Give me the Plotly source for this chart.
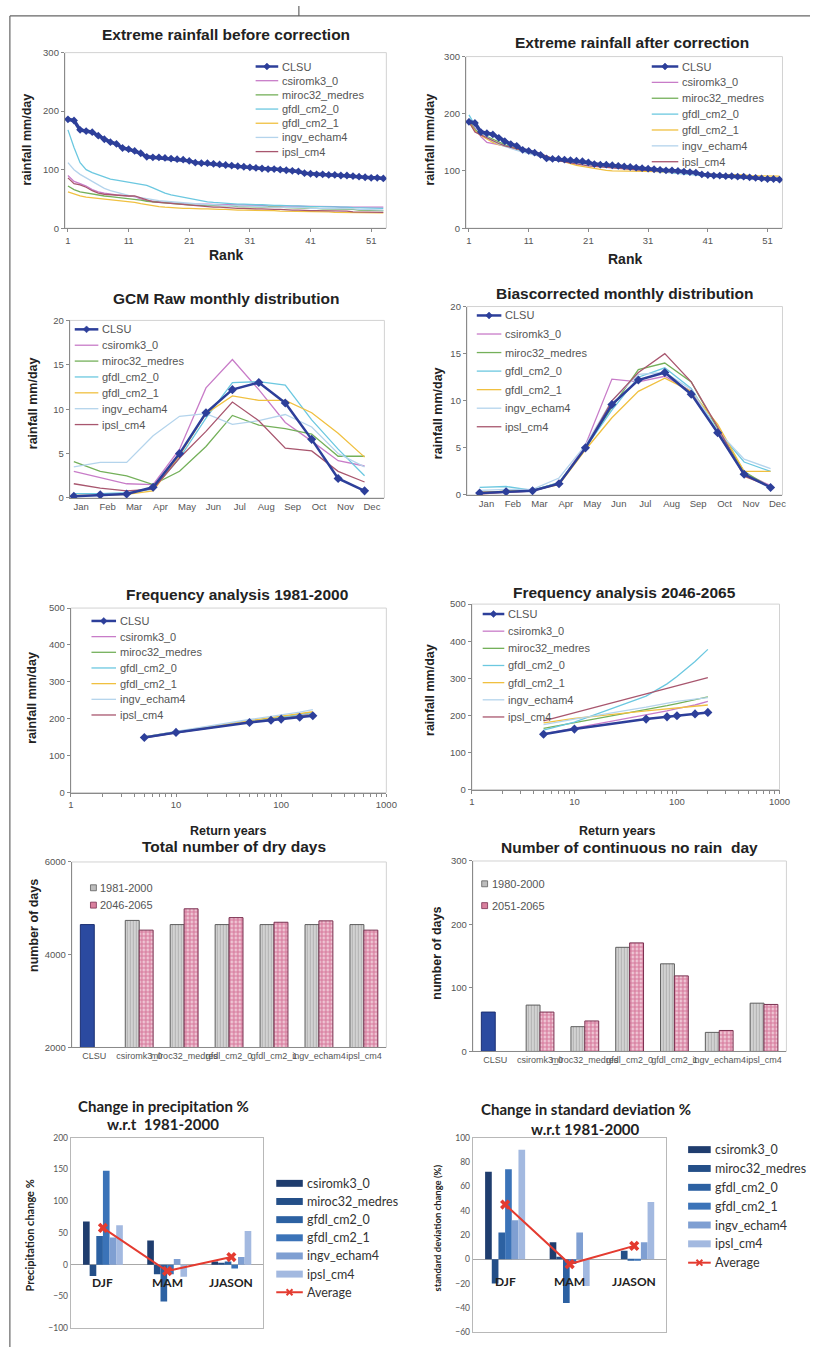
import plotly.graph_objects as go

W, H = 821, 1352
FONT = "Liberation Sans"
FONT2 = "Lato"

# ---------------- data ----------------
models = ["csiromk3_0", "miroc32_medres", "gfdl_cm2_0", "gfdl_cm2_1", "ingv_echam4", "ipsl_cm4"]
model_colors = ["#c87cc8", "#74b05a", "#6cc8e0", "#f0c040", "#b4d4ec", "#a8566e"]
clsu_color = "#2d3f9a"

rank = list(range(1, 54))
rank_ticks = [1, 11, 21, 31, 41, 51]

clsu_rank = [186, 184, 168, 166, 164, 158, 152, 147, 144, 137, 135, 132, 128, 122, 121, 121, 120, 119, 118, 117,
             115, 112, 111, 111, 110, 109, 108, 107, 106, 105, 104, 103, 102, 101, 101, 100, 99, 98, 97, 94,
             93, 92, 92, 91, 91, 90, 90, 89, 88, 87, 86, 86, 85]

# before correction
raw_csiro = [90, 80, 76, 72, 66, 62, 60, 58, 57, 56, 55, 54, 50, 47, 46, 45, 44, 43, 43, 42, 42, 41, 41, 41, 40, 40,
             40, 40, 39, 39, 39, 39, 39, 38, 38, 38, 38, 38, 38, 37, 37, 37, 37, 37, 37, 36, 36, 36, 36, 36, 36, 36, 36]
raw_miroc = [72, 66, 62, 60, 58, 56, 55, 54, 53, 52, 51, 50, 48, 46, 45, 44, 43, 42, 41, 40, 40, 39, 39, 39, 38, 38,
             38, 38, 37, 37, 37, 37, 36, 36, 36, 36, 35, 35, 35, 34, 34, 34, 33, 33, 33, 32, 32, 32, 31, 31, 31, 30, 30]
raw_gfdl0 = [168, 138, 112, 100, 95, 91, 88, 84, 82, 80, 78, 76, 75, 73, 69, 64, 60, 57, 55, 52, 50, 48, 46, 45, 44,
             43, 42, 42, 41, 41, 40, 40, 40, 39, 39, 39, 38, 38, 38, 37, 37, 37, 37, 36, 36, 36, 36, 35, 35, 35, 35, 34, 34]
raw_gfdl1 = [62, 58, 55, 53, 52, 50, 49, 48, 47, 46, 45, 44, 42, 40, 38, 37, 36, 35, 35, 34, 34, 33, 33, 33, 32, 32,
             32, 31, 31, 31, 31, 30, 30, 30, 30, 29, 29, 29, 29, 28, 28, 28, 28, 28, 27, 27, 27, 27, 27, 26, 26, 26, 26]
raw_ingv = [112, 100, 92, 86, 80, 74, 68, 64, 61, 58, 56, 54, 52, 50, 48, 47, 46, 45, 44, 43, 42, 41, 41, 40, 40, 39,
            39, 38, 38, 38, 37, 37, 37, 36, 36, 36, 35, 35, 35, 35, 34, 34, 34, 34, 33, 33, 33, 33, 32, 32, 32, 32, 31]
raw_ipsl = [86, 76, 74, 70, 64, 60, 58, 57, 56, 56, 55, 55, 52, 48, 45, 44, 43, 42, 41, 40, 39, 38, 38, 37, 36, 36,
            35, 35, 34, 34, 33, 33, 33, 32, 32, 32, 31, 31, 31, 30, 30, 30, 30, 29, 29, 29, 29, 28, 28, 28, 28, 28, 27]

# after correction
cor_csiro = [190, 175, 160, 150, 148, 147, 145, 143, 140, 136, 132, 128, 124, 121, 120, 119, 118, 117, 116, 115, 113,
             111, 110, 109, 108, 107, 106, 105, 104, 103, 102, 101, 100, 99, 99, 98, 97, 96, 95, 93, 92, 91, 90, 89,
             89, 88, 88, 87, 87, 86, 86, 85, 85]
cor_miroc = [188, 172, 165, 160, 155, 150, 146, 142, 139, 136, 134, 131, 127, 124, 122, 120, 118, 116, 114, 112, 111,
             110, 109, 108, 107, 106, 105, 104, 103, 102, 101, 100, 99, 98, 97, 96, 95, 94, 93, 92, 91, 91, 90, 90,
             89, 89, 88, 88, 87, 87, 86, 86, 86]
cor_gfdl0 = [198, 180, 168, 160, 152, 148, 144, 140, 137, 135, 133, 130, 126, 123, 121, 119, 117, 115, 114, 113, 112,
             110, 108, 107, 106, 105, 104, 103, 102, 101, 100, 99, 98, 97, 97, 96, 95, 94, 93, 92, 91, 90, 90, 89,
             89, 88, 88, 87, 87, 87, 86, 86, 85]
cor_gfdl1 = [185, 170, 162, 156, 150, 146, 143, 140, 137, 135, 133, 131, 128, 125, 122, 118, 115, 112, 110, 108, 106,
             104, 102, 101, 100, 100, 100, 100, 100, 100, 100, 99, 99, 98, 98, 97, 97, 96, 96, 95, 95, 94, 94, 94,
             93, 93, 93, 92, 92, 92, 91, 91, 91]
cor_ingv = [192, 178, 166, 158, 152, 147, 143, 139, 136, 133, 130, 128, 125, 123, 121, 119, 117, 115, 113, 112, 111,
            110, 109, 108, 107, 106, 105, 104, 103, 102, 101, 100, 100, 99, 98, 97, 96, 95, 94, 93, 92, 91, 90, 89,
            88, 88, 87, 87, 86, 86, 85, 85, 84]
cor_ipsl = [186, 168, 163, 158, 152, 148, 144, 141, 138, 136, 135, 134, 130, 126, 122, 118, 116, 114, 112, 110, 109,
            108, 107, 106, 105, 104, 103, 103, 102, 101, 101, 100, 100, 99, 99, 98, 97, 96, 95, 94, 93, 92, 92, 91,
            91, 90, 90, 89, 89, 88, 88, 87, 87]

months = ["Jan", "Feb", "Mar", "Apr", "May", "Jun", "Jul", "Aug", "Sep", "Oct", "Nov", "Dec"]
clsu_month = [0.2, 0.35, 0.45, 1.2, 5.0, 9.6, 12.2, 13.0, 10.7, 6.6, 2.2, 0.8]
mraw_csiro = [3.0, 2.3, 1.6, 1.5, 5.5, 12.4, 15.6, 12.2, 8.5, 6.4, 4.2, 3.6]
mraw_miroc = [4.1, 3.0, 2.5, 1.5, 3.0, 5.8, 9.3, 8.2, 7.8, 7.2, 4.7, 4.7]
mraw_gfdl0 = [0.5, 0.5, 0.6, 1.0, 4.5, 9.0, 13.0, 13.1, 12.7, 8.8, 5.5, 2.5]
mraw_gfdl1 = [0.3, 0.3, 0.4, 0.8, 4.8, 9.5, 11.5, 11.0, 11.0, 9.6, 7.3, 4.6]
mraw_ingv = [3.5, 4.0, 4.0, 7.0, 9.2, 9.5, 8.3, 8.7, 9.4, 8.0, 5.0, 3.5]
mraw_ipsl = [1.6, 1.1, 0.8, 1.0, 4.5, 7.5, 10.8, 8.7, 5.6, 5.3, 3.0, 1.8]

mcor_csiro = [0.2, 0.3, 0.4, 1.2, 5.3, 12.3, 12.0, 12.6, 11.0, 6.5, 2.3, 1.0]
mcor_miroc = [0.2, 0.4, 0.5, 1.3, 5.0, 9.3, 13.3, 14.0, 12.0, 7.0, 2.5, 0.8]
mcor_gfdl0 = [0.8, 0.9, 0.5, 1.3, 5.0, 9.0, 12.5, 13.5, 11.3, 6.8, 3.5, 2.5]
mcor_gfdl1 = [0.3, 0.4, 0.5, 1.1, 4.8, 8.2, 11.0, 12.4, 11.0, 7.5, 2.5, 2.5]
mcor_ingv = [0.5, 0.6, 0.6, 1.8, 5.3, 10.0, 12.8, 13.0, 11.2, 6.8, 3.8, 2.8]
mcor_ipsl = [0.1, 0.3, 0.4, 1.2, 5.0, 10.0, 13.0, 15.0, 12.0, 7.2, 2.0, 0.9]

return_years = [5, 10, 50, 80, 100, 150, 200]
return_ticks = [1, 10, 100, 1000]
clsu_freq = [149, 163, 190, 196, 199, 204, 208]
f81_csiro = [150, 164, 193, 199, 203, 209, 214]
f81_miroc = [151, 165, 192, 198, 201, 207, 211]
f81_gfdl0 = [149, 163, 194, 201, 205, 212, 217]
f81_gfdl1 = [150, 164, 195, 203, 207, 214, 219]
f81_ingv = [150, 166, 198, 206, 210, 218, 225]
f81_ipsl = [148, 162, 191, 197, 200, 206, 210]

f46_csiro = [150, 165, 200, 212, 218, 228, 238]
f46_miroc = [165, 180, 215, 226, 232, 242, 250]
f46_gfdl0 = [160, 182, 252, 285, 305, 345, 378]
f46_gfdl1 = [180, 192, 212, 218, 221, 225, 228]
f46_ingv = [175, 190, 222, 233, 238, 244, 248]
f46_ipsl = [185, 207, 257, 272, 280, 292, 302]

bar_cats = ["CLSU"] + models
dry_clsu = [4650]
dry_1981 = [4740, 4650, 4650, 4650, 4650, 4650]
dry_2046 = [4530, 4990, 4800, 4700, 4730, 4530]

norain_clsu = [62]
norain_1980 = [73, 39, 164, 138, 30, 76]
norain_2051 = [62, 48, 171, 119, 33, 74]

seasons = ["DJF", "MAM", "JJASON"]
pc_csiro = [68, 38, 5]
pc_miroc = [-18, -15, 3]
pc_gfdl0 = [45, -58, 5]
pc_gfdl1 = [148, -15, -6]
pc_ingv = [43, 9, 12]
pc_ipsl = [62, -19, 53]
pc_avg = [58, -10, 12]

sd_csiro = [72, 14, 0]
sd_miroc = [-20, 2, 7]
sd_gfdl0 = [22, -36, -1]
sd_gfdl1 = [74, -4, -1]
sd_ingv = [32, 22, 14]
sd_ipsl = [90, -22, 47]
sd_avg = [45, -4, 11]

bar_colors = ["#1f3d6e", "#244f88", "#2c61a2", "#3b73b8", "#7f9fd2", "#a3b9e0"]
avg_color = "#e43b30"

# ---------------- helpers ----------------
def fx(p):
    return p / W


def fy(p):
    return 1 - p / H


def sid(n):
    return "" if n == 1 else str(n)


fig = go.Figure()
layout = {}
shapes = []
annotations = []

AXC = "#8a8a8a"
TICKF = dict(family=FONT, size=9.5, color="#555")
TITLE_SIZE = 15.5
YT_SIZE = 12.5
LEG_SIZE = 11


def make_axes(n, x0, x1, y0, y1, xa, ya, frame="#d2d2d2"):
    base = dict(showgrid=False, zeroline=False, showline=True, linecolor=AXC, linewidth=1.2,
                ticks="outside", ticklen=3, tickcolor=AXC, tickfont=TICKF)
    xd = dict(base); xd.update(xa)
    yd = dict(base); yd.update(ya)
    s = sid(n)
    layout[f"xaxis{s}"] = dict(domain=[fx(x0), fx(x1)], anchor=f"y{s}", **xd)
    layout[f"yaxis{s}"] = dict(domain=[fy(y1), fy(y0)], anchor=f"x{s}", **yd)
    if frame:
        shapes.append(dict(type="rect", xref=f"x{s} domain", yref=f"y{s} domain", x0=0, x1=1, y0=0, y1=1,
                           line=dict(color=frame, width=1), layer="below"))


def text(x, y, s, size, bold=False, angle=0, family=FONT, color="#222", xanchor="center"):
    annotations.append(dict(x=fx(x), y=fy(y), xref="paper", yref="paper", text=s, showarrow=False,
                            xanchor=xanchor, yanchor="middle", textangle=angle,
                            font=dict(family=family, size=size, color=color,
                                      weight="bold" if bold else "normal")))


def line_legend(x0, y0, dy, length, fsize=LEG_SIZE):
    entries = [("CLSU", clsu_color, 2.5, True)] + [(m, c, 1.3, False) for m, c in zip(models, model_colors)]
    for i, (name, color, width, marker) in enumerate(entries):
        y = y0 + i * dy
        shapes.append(dict(type="line", xref="paper", yref="paper", x0=fx(x0), x1=fx(x0 + length),
                           y0=fy(y), y1=fy(y), line=dict(color=color, width=width)))
        if marker:
            cx, r = x0 + length / 2, 3.5
            path = (f"M {fx(cx - r)} {fy(y)} L {fx(cx)} {fy(y - r)} L {fx(cx + r)} {fy(y)} "
                    f"L {fx(cx)} {fy(y + r)} Z")
            shapes.append(dict(type="path", xref="paper", yref="paper", path=path, fillcolor=color,
                               line=dict(color=color, width=0.5)))
        text(x0 + length + 2, y, name, fsize, color="#555", xanchor="left")


def add_lines(n, x, series, clsu, clsu_w=2.5, msize=7):
    s = sid(n)
    for ser, c in zip(series, model_colors):
        fig.add_trace(go.Scatter(x=x, y=ser, mode="lines", line=dict(color=c, width=1.3),
                                 xaxis=f"x{s}", yaxis=f"y{s}", showlegend=False, hoverinfo="skip"))
    fig.add_trace(go.Scatter(x=x, y=clsu, mode="lines+markers", line=dict(color=clsu_color, width=clsu_w),
                             marker=dict(symbol="diamond", size=msize, color=clsu_color),
                             xaxis=f"x{s}", yaxis=f"y{s}", showlegend=False, hoverinfo="skip"))


# ---------------- panel 1 & 2: extreme rainfall ----------------
rank_ax = dict(range=[0.5, 53.5], tickvals=rank_ticks, ticktext=[str(t) for t in rank_ticks])
add_lines(1, rank, [raw_csiro, raw_miroc, raw_gfdl0, raw_gfdl1, raw_ingv, raw_ipsl], clsu_rank, 3.5, 6)
make_axes(1, 63, 390, 47, 224, rank_ax, dict(range=[0, 300], tickvals=[0, 100, 200, 300]))
text(227, 29, "Extreme rainfall before correction", TITLE_SIZE, True)
text(24, 135, "rainfall mm/day", YT_SIZE, True, -90)
text(227, 251, "Rank", 14, True)
line_legend(257, 61, 14.3, 23)

add_lines(2, rank, [cor_csiro, cor_miroc, cor_gfdl0, cor_gfdl1, cor_ingv, cor_ipsl], clsu_rank, 3.5, 6)
make_axes(2, 471, 793, 51, 224, rank_ax, dict(range=[0, 300], tickvals=[0, 100, 200, 300]))
text(640, 37, "Extreme rainfall after correction", TITLE_SIZE, True)
text(434, 135, "rainfall mm/day", YT_SIZE, True, -90)
text(633, 255, "Rank", 14, True)
line_legend(660, 61, 16, 27)

# ---------------- panel 3 & 4: monthly ----------------
mx = list(range(12))
add_lines(3, mx, [mraw_csiro, mraw_miroc, mraw_gfdl0, mraw_gfdl1, mraw_ingv, mraw_ipsl], clsu_month)
make_axes(3, 68, 388, 317, 496,
          dict(range=[-0.15, 11.75], tickvals=[i + 0.28 for i in mx], ticktext=months, ticks=""),
          dict(range=[0, 20], tickvals=[0, 5, 10, 15, 20]))
text(227, 295, "GCM Raw monthly distribution", TITLE_SIZE, True)
text(30, 400, "rainfall mm/day", YT_SIZE, True, -90)
line_legend(73, 326, 16, 24)

add_lines(4, mx, [mcor_csiro, mcor_miroc, mcor_gfdl0, mcor_gfdl1, mcor_ingv, mcor_ipsl], clsu_month)
make_axes(4, 472, 793, 303, 493,
          dict(range=[-0.48, 11.45], tickvals=[i + 0.26 for i in mx], ticktext=months, ticks=""),
          dict(range=[0, 20], tickvals=[0, 5, 10, 15, 20]))
text(633, 290, "Biascorrected monthly distribution", TITLE_SIZE, True)
text(442, 410, "rainfall mm/day", YT_SIZE, True, -90)
line_legend(482, 312, 18.7, 25)

# ---------------- panel 5 & 6: frequency ----------------
minor_vals = [m * d for d in (1, 10, 100) for m in range(1, 10)] + [1000]
freq_ax = dict(type="log", range=[0, 3], tickvals=minor_vals,
               ticktext=[str(v) if v in return_ticks else "" for v in minor_vals])
add_lines(5, return_years, [f81_csiro, f81_miroc, f81_gfdl0, f81_gfdl1, f81_ingv, f81_ipsl], clsu_freq)
make_axes(5, 69, 390, 607, 793, freq_ax, dict(range=[0, 500], tickvals=[0, 100, 200, 300, 400, 500]))
text(238, 593, "Frequency analysis 1981-2000", TITLE_SIZE, True)
text(30, 697, "rainfall mm/day", YT_SIZE, True, -90)
text(229, 832, "Return years", 12.5, True)
line_legend(90, 620, 15.8, 25)

add_lines(6, return_years, [f46_csiro, f46_miroc, f46_gfdl0, f46_gfdl1, f46_ingv, f46_ipsl], clsu_freq)
make_axes(6, 477, 790, 603, 790, freq_ax, dict(range=[0, 500], tickvals=[0, 100, 200, 300, 400, 500]))
text(632, 591, "Frequency analysis 2046-2065", TITLE_SIZE, True)
text(435, 690, "rainfall mm/day", YT_SIZE, True, -90)
text(625, 832, "Return years", 12.5, True)
line_legend(488, 613, 17.3, 22)

# ---------------- panel 7 & 8: bars ----------------
gray_marker = dict(color="#d2d2d2", line=dict(color="#5e5e5e", width=1),
                   pattern=dict(shape="|", fgcolor="#8c8c8c", size=3, solidity=0.3, fillmode="overlay"))
pink_marker = dict(color="#f6dbe4", line=dict(color="#7a3050", width=1),
                   pattern=dict(shape=".", fgcolor="#bf3467", size=4, solidity=0.7, fillmode="overlay"))
clsu_marker = dict(color="#2b4aa0", line=dict(color="#1b2f72", width=1))


def bar_panel(n, clsu_v, v1, v2):
    s = sid(n)
    fig.add_trace(go.Bar(x=["CLSU"], y=clsu_v, marker=clsu_marker, offsetgroup="a",
                         xaxis=f"x{s}", yaxis=f"y{s}", showlegend=False, hoverinfo="skip"))
    fig.add_trace(go.Bar(x=models, y=v1, marker=gray_marker, offsetgroup="a",
                         xaxis=f"x{s}", yaxis=f"y{s}", showlegend=False, hoverinfo="skip"))
    fig.add_trace(go.Bar(x=models, y=v2, marker=pink_marker, offsetgroup="b",
                         xaxis=f"x{s}", yaxis=f"y{s}", showlegend=False, hoverinfo="skip"))


def bar_legend(x0, y0, dy, names):
    for i, (nm, col, lc) in enumerate(zip(names, ["#bdbdbd", "#d9809e"], ["#5e5e5e", "#7a3050"])):
        y = y0 + i * dy
        shapes.append(dict(type="rect", xref="paper", yref="paper", x0=fx(x0), x1=fx(x0 + 6),
                           y0=fy(y + 3), y1=fy(y - 3), fillcolor=col, line=dict(color=lc, width=0.8)))
        text(x0 + 8, y, nm, LEG_SIZE, color="#555", xanchor="left")


cat_ax = dict(type="category", categoryorder="array", categoryarray=bar_cats, tickangle=0, ticks="",
              tickfont=dict(family=FONT, size=9, color="#555"))
bar_panel(7, dry_clsu, dry_1981, dry_2046)
make_axes(7, 70, 390, 863, 1050, cat_ax, dict(range=[2000, 6000], tickvals=[2000, 4000, 6000]))
text(235, 847, "Total number of dry days", TITLE_SIZE, True)
text(32, 927, "number of days", YT_SIZE, True, -90)
bar_legend(89, 889, 17.5, ["1981-2000", "2046-2065"])

bar_panel(8, norain_clsu, norain_1980, norain_2051)
make_axes(8, 478, 797, 862, 1054, cat_ax, dict(range=[0, 300], tickvals=[0, 100, 200, 300]))
text(637, 848, "Number of continuous no rain  day", TITLE_SIZE, True)
text(442, 955, "number of days", YT_SIZE, True, -90)
bar_legend(487, 885, 22, ["1980-2000", "2051-2065"])

# ---------------- panel 9 & 10: change bars ----------------
def change_panel(n, series, avg, label_shift):
    s = sid(n)
    for ser, c, m in zip(series, bar_colors, models):
        fig.add_trace(go.Bar(x=seasons, y=ser, marker=dict(color=c, line=dict(width=0)),
                             xaxis=f"x{s}", yaxis=f"y{s}", showlegend=False, hoverinfo="skip", name=m))
    fig.add_trace(go.Scatter(x=seasons, y=avg, mode="lines+markers", line=dict(color=avg_color, width=2),
                             marker=dict(symbol="x", size=9, color=avg_color),
                             xaxis=f"x{s}", yaxis=f"y{s}", showlegend=False, hoverinfo="skip"))
    for se in seasons:
        annotations.append(dict(x=se, y=0, xref=f"x{s}", yref=f"y{s}", text=se, showarrow=False,
                                yshift=-label_shift, font=dict(family=FONT2, size=12, color="#222",
                                                               weight="bold")))


def change_legend(x0, y0, dy, length):
    for i, (m, c) in enumerate(zip(models, bar_colors)):
        y = y0 + i * dy
        shapes.append(dict(type="rect", xref="paper", yref="paper", x0=fx(x0), x1=fx(x0 + length),
                           y0=fy(y + 3.5), y1=fy(y - 3.5), fillcolor=c, line=dict(width=0)))
        text(x0 + length + 2, y, m, 12.5, family=FONT2, color="#333", xanchor="left")
    y = y0 + 6 * dy
    shapes.append(dict(type="line", xref="paper", yref="paper", x0=fx(x0), x1=fx(x0 + length),
                       y0=fy(y), y1=fy(y), line=dict(color=avg_color, width=2)))
    cx = x0 + length / 2
    for a, b in ((-3, -3), (-3, 3)):
        shapes.append(dict(type="line", xref="paper", yref="paper", x0=fx(cx + a), x1=fx(cx - a),
                           y0=fy(y + b), y1=fy(y - b), line=dict(color=avg_color, width=2)))
    text(x0 + length + 2, y, "Average", 12.5, family=FONT2, color="#333", xanchor="left")


ch_x = dict(showticklabels=False, ticks="", linecolor="#b8b8b8", mirror=True)
ch_tick = dict(family=FONT2, size=8.5, color="#555")
change_panel(9, [pc_csiro, pc_miroc, pc_gfdl0, pc_gfdl1, pc_ingv, pc_ipsl], pc_avg, 18)
make_axes(9, 69, 265, 1141, 1333, ch_x,
          dict(range=[-100, 200], tickvals=[-100, -50, 0, 50, 100, 150, 200], ticks="", mirror=True,
               linecolor="#b8b8b8", zeroline=True, zerolinecolor="#a8a8a8", zerolinewidth=1, tickfont=ch_tick),
          frame=None)
text(163, 1109, "Change in precipitation %", 15, True, family=FONT2)
text(163, 1127, "w.r.t  1981-2000", 15, True, family=FONT2)
text(27, 1240, "Precipitation change %", 11, True, -90, family=FONT2)
change_legend(278, 1187, 18.3, 27)

change_panel(10, [sd_csiro, sd_miroc, sd_gfdl0, sd_gfdl1, sd_ingv, sd_ipsl], sd_avg, 22)
make_axes(10, 478, 675, 1141, 1337, ch_x,
          dict(range=[-60, 100], tickvals=[-60, -40, -20, 0, 20, 40, 60, 80, 100], ticks="", mirror=True,
               linecolor="#b8b8b8", zeroline=True, zerolinecolor="#a8a8a8", zerolinewidth=1, tickfont=ch_tick),
          frame=None)
text(593, 1112, "Change in standard deviation %", 15, True, family=FONT2)
text(593, 1132, "w.r.t 1981-2000", 15, True, family=FONT2)
text(443, 1232, "standard deviation change (%)", 9.5, True, -90, family=FONT2)
change_legend(697, 1153, 19, 23)

# ---------------- page border ----------------
for (a, b, c, d) in ((7, 10, 7, 1352), (7, 10, 821, 10), (301, 0, 301, 10)):
    shapes.append(dict(type="line", xref="paper", yref="paper", x0=fx(a), y0=fy(b), x1=fx(c), y1=fy(d),
                       line=dict(color="#666", width=1.2)))

fig.update_layout(width=W, height=H, margin=dict(l=0, r=0, t=0, b=0), paper_bgcolor="white",
                  plot_bgcolor="rgba(0,0,0,0)", barmode="group", bargap=0.38, bargroupgap=0,
                  showlegend=False, shapes=shapes, annotations=annotations, **layout)
fig.write_html("out.html")
